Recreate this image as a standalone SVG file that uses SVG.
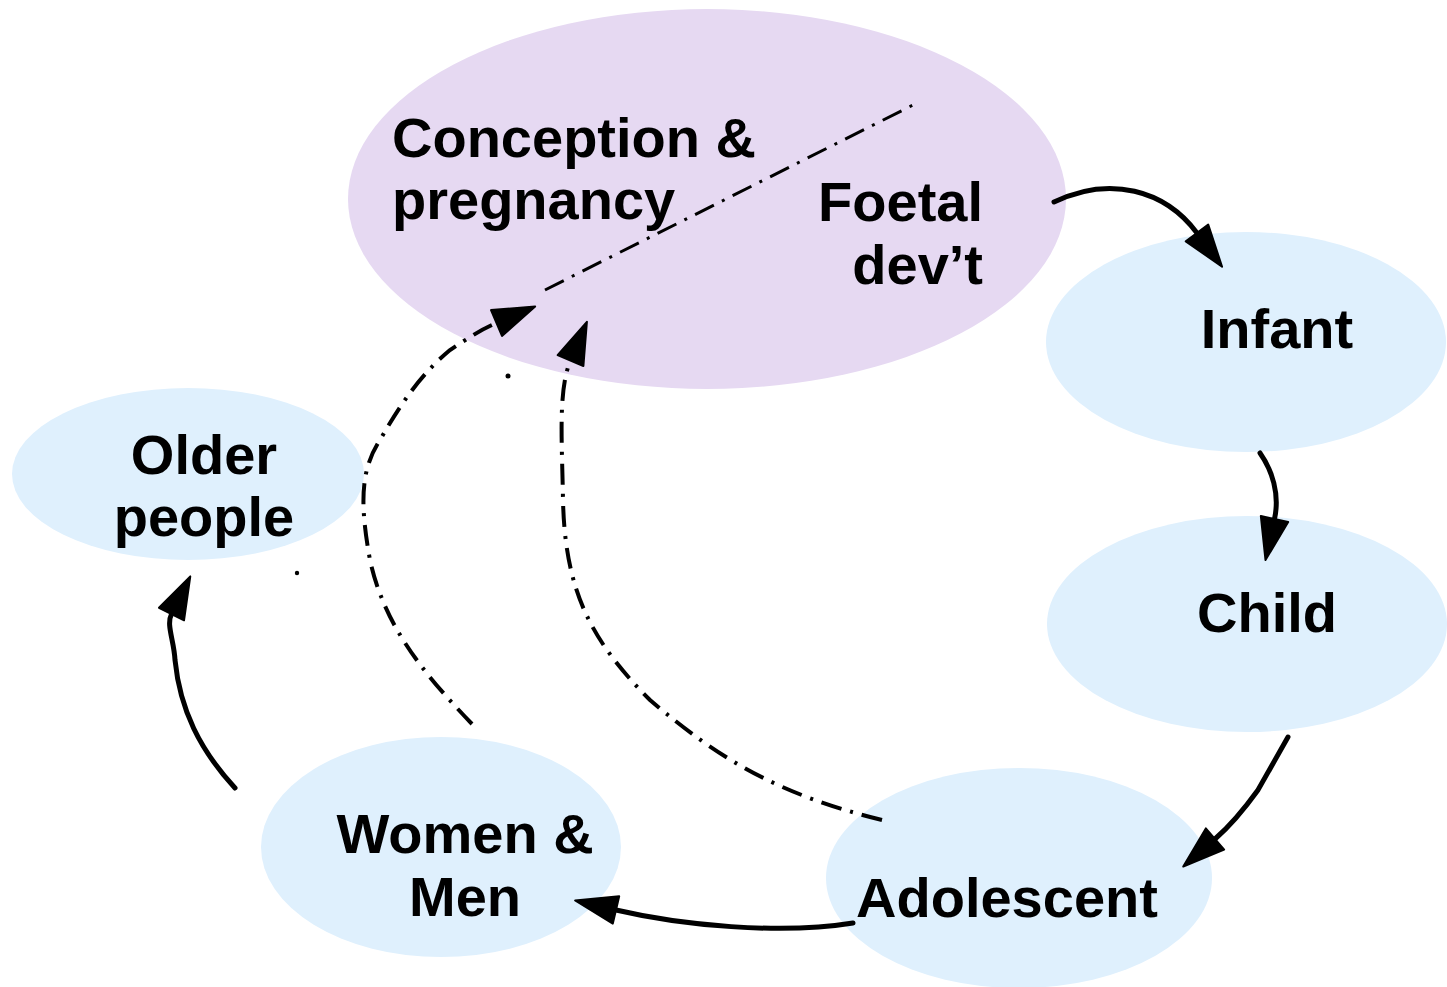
<svg xmlns="http://www.w3.org/2000/svg" width="1447" height="987" viewBox="0 0 1447 987">
<style>
.lbl{font-family:"Liberation Sans",Arial,sans-serif;font-weight:bold;font-size:56px;fill:#000}
.blue{fill:#DFF0FD}
.purple{fill:#E6D9F2}
.solid{fill:none;stroke:#000;stroke-width:5;stroke-linecap:round}
.dash{fill:none;stroke:#000;stroke-width:4;stroke-dasharray:21 9 3 9}
</style>
<defs>
<marker id="ah" markerUnits="userSpaceOnUse" markerWidth="50" markerHeight="32" refX="0" refY="14" orient="auto" overflow="visible">
<path d="M0,0 L42,14 L0,28 z" fill="#000" stroke="#000" stroke-width="2" stroke-linejoin="round"/>
</marker>
</defs>
<rect width="1447" height="987" fill="#fff"/>
<g id="conception">
<ellipse class="purple" cx="707" cy="199" rx="359" ry="190"/>
<text class="lbl" x="392" y="157">Conception &amp;</text>
<text class="lbl" x="392" y="219">pregnancy</text>
<text class="lbl" x="983" y="221" text-anchor="end">Foetal</text>
<text class="lbl" x="983" y="284" text-anchor="end">dev’t</text>
</g>
<g id="infant">
<ellipse class="blue" cx="1246" cy="342" rx="200" ry="110"/>
<text class="lbl" x="1277" y="348" text-anchor="middle">Infant</text>
</g>
<g id="child">
<ellipse class="blue" cx="1247" cy="624" rx="200" ry="108"/>
<text class="lbl" x="1267" y="632" text-anchor="middle">Child</text>
</g>
<g id="adolescent">
<ellipse class="blue" cx="1019" cy="878" rx="193" ry="110"/>
<text class="lbl" x="1007" y="917" text-anchor="middle">Adolescent</text>
</g>
<g id="women-men">
<ellipse class="blue" cx="441" cy="847" rx="180" ry="110"/>
<text class="lbl" x="465" y="853" text-anchor="middle">Women &amp;</text>
<text class="lbl" x="465" y="916" text-anchor="middle">Men</text>
</g>
<g id="older">
<ellipse class="blue" cx="188" cy="474" rx="176" ry="86"/>
<text class="lbl" x="204" y="474" text-anchor="middle">Older</text>
<text class="lbl" x="204" y="536" text-anchor="middle">people</text>
</g>
<g id="connectors">
<path class="solid" d="M1054,202 C1110,175 1165,190 1197,233" marker-end="url(#ah)"/>
<path class="solid" d="M1260,453 C1272,470 1280,494 1274.5,519" marker-end="url(#ah)"/>
<path class="solid" d="M1288,737 L1258,790 C1245,808 1230,826 1215,839" marker-end="url(#ah)"/>
<path class="solid" d="M853,923 C780,935 680,925 616,910" marker-end="url(#ah)"/>
<path class="solid" d="M235,788 C200,750 180,710 175,660 C174,640 166,625 171.5,614" marker-end="url(#ah)"/>
<path class="dash" d="M472,724 C430,680 385,630 370,560 C360,505 360,470 380,440 C400,405 420,375 450,350 C470,337 480,330 496.5,323" marker-end="url(#ah)"/>
<path class="dash" d="M882,820 C780,795 720,760 650,700 C590,640 565,590 563,500 C562,440 558,390 570.5,360.5" marker-end="url(#ah)"/>
<path class="dash" d="M545,290 L917,103" style="stroke-width:3"/>
<circle cx="508" cy="376" r="2.5" fill="#000"/>
<circle cx="297" cy="573" r="2.2" fill="#000"/>
</g>
</svg>
